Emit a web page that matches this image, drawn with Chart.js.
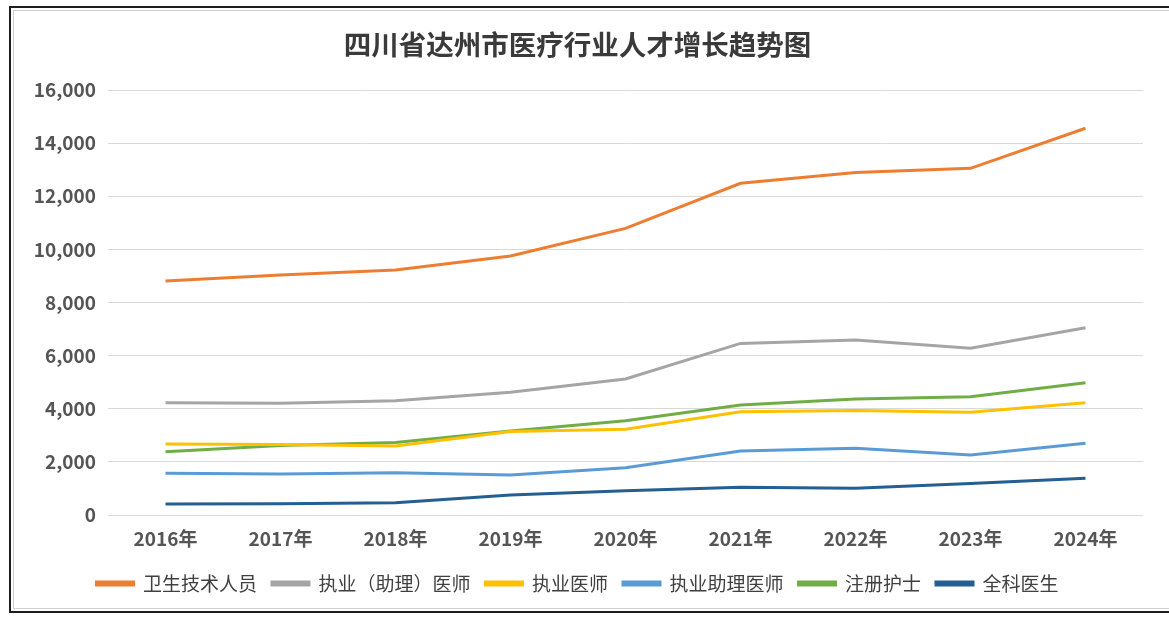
<!DOCTYPE html>
<html>
<head>
<meta charset="utf-8">
<script src="https://cdn.jsdelivr.net/npm/chart.js@4.4.1/dist/chart.umd.min.js"></script>
<style>
    body { margin: 0; background: #fff; overflow: hidden; }
    #frame {
        position: absolute; left: 9px; top: 6px; width: 1180px; height: 607px;
        border: 2px solid #1e1e1e; box-sizing: border-box;
    }
    #inner {
        position: absolute; left: 2px; top: 2px; width: 1155px; bottom: 2px;
        border: 1px solid #cfcfcf;
    }
    #chart-wrap { position: absolute; left: 12px; top: 9px; width: 1155px; height: 604px; }
</style>
</head>
<body>
<div id="frame"><div id="inner"></div></div>
<div id="chart-wrap"><canvas id="trend-graph"></canvas></div>
<script>
const years = ["2016年", "2017年", "2018年", "2019年", "2020年", "2021年", "2022年", "2023年", "2024年"];

// values
const healthTech = [8810, 9035, 9225, 9750, 10790, 12490, 12890, 13050, 14560];
const physiciansAll = [4230, 4205, 4300, 4620, 5120, 6460, 6590, 6275, 7050];
const physicians = [2675, 2650, 2600, 3140, 3230, 3890, 3930, 3865, 4230];
const assistantPhysicians = [1570, 1545, 1595, 1505, 1780, 2410, 2510, 2260, 2700];
const nurses = [2385, 2620, 2725, 3160, 3550, 4140, 4365, 4455, 4980];
const generalPractitioners = [415, 420, 465, 755, 915, 1040, 1005, 1190, 1380];

const seriesNames = ["卫生技术人员", "执业（助理）医师", "执业医师", "执业助理医师", "注册护士", "全科医生"];
const seriesColors = ["#ED7D31", "#A5A5A5", "#FFC000", "#5B9BD5", "#70AD47", "#255E91"];
const seriesData = [healthTech, physiciansAll, physicians, assistantPhysicians, nurses, generalPractitioners];

const yTicks = [0, 2000, 4000, 6000, 8000, 10000, 12000, 14000, 16000];

var datasets = [];
for (var i = 0; i < seriesNames.length; i++) {
    datasets.push({
        label: seriesNames[i],
        data: seriesData[i],
        borderColor: seriesColors[i],
        backgroundColor: seriesColors[i],
        borderWidth: 3,
        pointRadius: 0,
        tension: 0
    });
}

const cjk = "'Noto Sans CJK SC', 'Noto Sans', sans-serif";

new Chart(document.getElementById("trend-graph"), {
    type: 'line',
    data: {
        labels: years,
        datasets: datasets
    },
    options: {
        responsive: true,
        maintainAspectRatio: false,
        animation: false,
        layout: {
            padding: { left: 0, right: 24, top: 14, bottom: 10 }
        },
        scales: {
            y: {
                min: yTicks[0],
                max: yTicks[yTicks.length - 1],
                afterBuildTicks: function(scale) {
                    scale.ticks = yTicks.map(v => ({ value: v }));
                },
                afterFit: function(scale) {
                    scale.width = 96;
                },
                border: { display: false },
                grid: { color: "#d9d9d9", lineWidth: 1, drawTicks: false },
                ticks: {
                    padding: 12,
                    color: "#555555",
                    font: { family: cjk, size: 19, weight: 'bold' },
                    callback: function(v) { return v.toLocaleString('en-US'); }
                }
            },
            x: {
                offset: true,
                afterFit: function(scale) {
                    scale.height = 44;
                },
                border: { display: false },
                grid: { display: false },
                ticks: {
                    padding: 4,
                    color: "#555555",
                    font: { family: cjk, size: 19, weight: 'bold' },
                    maxRotation: 0
                }
            }
        },
        plugins: {
            title: {
                display: true,
                text: "四川省达州市医疗行业人才增长趋势图",
                color: "#3a3a3a",
                font: { family: cjk, size: 27.5, weight: 'bold' },
                padding: { top: 5, bottom: 29 }
            },
            legend: {
                position: "bottom",
                labels: {
                    boxWidth: 37,
                    boxHeight: 3,
                    padding: 15,
                    color: "#404040",
                    font: { family: cjk, size: 19 }
                }
            },
            tooltip: { enabled: false }
        }
    }
});
</script>
</body>
</html>
